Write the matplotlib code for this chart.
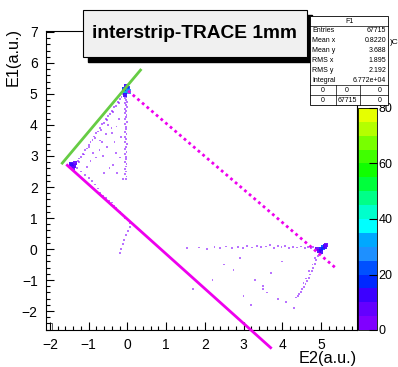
import numpy as np
import matplotlib.pyplot as plt
from matplotlib.colors import ListedColormap, Normalize
from matplotlib.patches import Rectangle
from matplotlib.ticker import MultipleLocator, AutoMinorLocator
import matplotlib.cm as cm

plt.rcParams['font.family'] = ['Liberation Sans', 'DejaVu Sans']

W, H = 398, 367

# hot spots: E2, E1, counts
hot_x = [-0.03, 0.00, -0.06, 0.02, -0.08, -0.02, 0.03, -0.05,
         -1.42, -1.38, -1.46, -1.40, -1.35,
         5.05, 5.00, 5.10, 4.95, 5.12, 4.90, 5.00]
hot_y = [5.10, 5.15, 5.05, 5.20, 5.15, 5.25, 5.08, 4.98,
         2.72, 2.68, 2.75, 2.62, 2.78,
         0.05, 0.00, 0.08, -0.05, 0.12, 0.00, -0.10]
hot_n = [55, 42, 30, 20, 15, 10, 25, 12,
         22, 14, 10, 8, 6,
         22, 18, 14, 12, 8, 8, 10]

# vertical streak at E2 ~ 0
streak_x = [-0.05, -0.02, -0.07, -0.03, 0.00, -0.06, -0.04, -0.01, -0.05, -0.03,
            -0.07, -0.02, -0.04, -0.06, -0.01, -0.05, -0.03, -0.04, -0.07, -0.02,
            -0.05, -0.03, -0.06, -0.01, -0.04, -0.05, -0.02, -0.06, -0.03, -0.04,
            -0.05, -0.02, -0.04, -0.06, -0.03, -0.05, -0.02, -0.04]
streak_y = [4.95, 4.90, 4.86, 4.80, 4.75, 4.70, 4.64, 4.58, 4.52, 4.46,
            4.40, 4.33, 4.26, 4.18, 4.10, 4.02, 3.94, 3.86, 3.78, 3.70,
            3.62, 3.54, 3.46, 3.38, 3.30, 3.22, 3.14, 3.06, 2.98, 2.90,
            2.82, 2.74, 2.66, 2.58, 2.50, 2.42, 2.34, 2.26]
streak_n = [6, 5, 4, 4, 3, 3, 3, 3, 2, 2, 2, 2, 2, 2, 1, 1, 2, 1, 1, 2,
            1, 1, 2, 1, 2, 1, 2, 2, 2, 1, 2, 1, 1, 2, 1, 1, 1, 1]

# diagonal edge from left blob up to the top hot spot
edge_x = [-1.33, -1.28, -1.24, -1.19, -1.15, -1.10, -1.05, -1.00, -0.95, -0.90,
          -0.85, -0.80, -0.75, -0.70, -0.65, -0.60, -0.55, -0.50, -0.45, -0.40,
          -0.35, -0.30, -0.25, -0.20, -0.15, -0.11,
          -1.25, -1.12, -0.98, -0.83, -0.68, -0.52, -0.38, -0.22]
edge_y = [2.74, 2.83, 2.92, 2.98, 3.07, 3.18, 3.24, 3.35, 3.46, 3.51,
          3.63, 3.74, 3.79, 3.90, 4.02, 4.07, 4.18, 4.29, 4.35, 4.46,
          4.57, 4.62, 4.74, 4.85, 4.90, 5.00,
          2.80, 3.05, 3.30, 3.58, 3.85, 4.15, 4.42, 4.72]

# sparse points inside the fan
fan_x = [-0.70, -0.52, -0.41, -0.30, -0.62, -0.22, -0.88, -0.36, -0.16, -0.50,
         -0.80, -0.26, -0.46, -0.60, -0.12, -0.95, -0.72, -0.33, -0.55, -0.18,
         -1.05, -0.40, -0.66, -0.28]
fan_y = [3.50, 3.30, 3.90, 3.10, 3.00, 4.20, 3.10, 2.70, 3.60, 4.00,
         2.95, 2.45, 2.60, 2.45, 2.25, 2.85, 3.20, 3.45, 3.70, 2.95,
         2.65, 3.75, 3.45, 3.95]

# spray from the left blob down towards the origin
spray_x = [-1.30, -1.20, -1.10, -1.00, -0.92, -0.84, -0.76, -0.70, -0.62, -0.55,
           -0.48, -0.40, -0.34, -0.28, -0.20, -0.12, -0.06, 0.02, 0.08, 0.06,
           0.02, -0.03, -0.08, -0.12, -0.17, -0.20]
spray_y = [2.60, 2.50, 2.40, 2.30, 2.18, 2.08, 1.95, 1.80, 1.72, 1.65,
           1.55, 1.50, 1.40, 1.32, 1.20, 1.10, 1.00, 0.92, 0.85, 0.70,
           0.58, 0.45, 0.30, 0.15, 0.00, -0.13]

# horizontal band at E1 ~ 0
band_x = [1.55, 1.85, 2.05, 2.25, 2.40, 2.55, 2.70, 2.85, 2.98, 3.10,
          3.22, 3.35, 3.46, 3.57, 3.68, 3.78, 3.88, 3.98, 4.08, 4.18,
          4.28, 4.38, 4.48, 4.58, 4.66, 4.74, 4.80, 4.86]
band_y = [0.02, 0.05, 0.00, 0.06, 0.03, 0.08, 0.04, 0.07, 0.02, 0.09,
          0.05, 0.10, 0.06, 0.08, 0.12, 0.04, 0.09, 0.06, 0.10, 0.03,
          0.07, 0.05, 0.08, 0.02, 0.06, 0.04, 0.07, 0.03]

# tail below the right hot spot
tail_x = [4.92, 4.88, 4.84, 4.80, 4.76, 4.72, 4.68, 4.64, 4.60, 4.56,
          4.52, 4.48, 4.44, 4.40, 4.36, 4.85, 4.78, 4.70, 4.62, 4.55]
tail_y = [-0.22, -0.35, -0.48, -0.60, -0.72, -0.82, -0.92, -1.02, -1.12, -1.22,
          -1.30, -1.38, -1.45, -1.50, -1.56, -0.28, -0.50, -0.70, -0.95, -1.10]

# isolated entries
field_x = [3.70, 3.50, 3.60, 2.74, 1.70, 3.50, 3.30, 3.90, 4.10, 3.00,
           2.90, 2.50, 4.00, 2.20, 3.20, 4.30]
field_y = [-0.77, -1.20, -1.40, -0.68, -1.30, -1.30, -1.00, -1.60, -1.70, -1.50,
           -0.30, -0.50, -0.40, -1.00, -1.80, -1.90]

# cut lines
green_x = [-1.68, 0.34]
green_y = [2.77, 5.77]
cut_x = [-1.55, 3.70]
cut_y = [2.70, -3.18]
dot_x = [0.02, 5.37]
dot_y = [5.10, -0.60]

palette = ['#8000ff', '#6400ff', '#3c00ff', '#0028ff', '#0050ff', '#1e90ff',
           '#00a8ff', '#00ffff', '#00ffcc', '#00ff88', '#00ff3c', '#10ff00',
           '#40ff00', '#78ff00', '#b4ff00', '#e6ff00']
z_ticks = [0, 20, 40, 60, 80]

stats_rows = [('Entries', '67715'), ('Mean x', '0.8220'), ('Mean y', '3.688'),
              ('RMS x', '1.895'), ('RMS y', '2.192'), ('Integral', '6.772e+04')]
stats_grid = [['0', '0', '0'], ['0', '67715', '0']]


def fx(px):
    return px / W


def fy(py):
    return 1 - py / H


fig = plt.figure(figsize=(W / 100, H / 100), dpi=100)
ax = fig.add_axes([fx(46), fy(330), fx(357) - fx(46), fy(31) - fy(330)])

cmap = ListedColormap(palette)
norm = Normalize(0, 80)

low_x = streak_x + edge_x + fan_x + spray_x + band_x + tail_x + field_x
low_y = streak_y + edge_y + fan_y + spray_y + band_y + tail_y + field_y
low_n = (streak_n + [2] * len(edge_x) + [1] * len(fan_x) + [1] * len(spray_x)
         + [1] * len(band_x) + [1] * len(tail_x) + [1] * len(field_x))

ax.scatter(low_x, low_y, c=low_n, cmap=cmap, norm=norm, s=1.8, marker='s',
           linewidths=0, alpha=0.55, zorder=3)
ax.scatter(hot_x, hot_y, c=hot_n, cmap=cmap, norm=norm, s=9, marker='s',
           linewidths=0, alpha=0.9, zorder=4)

ax.plot(green_x, green_y, color='#66cc44', lw=2, clip_on=False, zorder=5)
ax.plot(cut_x, cut_y, color='#ee00ee', lw=2, clip_on=False, zorder=5)
ax.plot(dot_x, dot_y, color='#ee00ee', lw=2, ls=(0, (1, 1.2)), clip_on=False, zorder=5)

ax.set_xlim(-2.1, 5.93)
ax.set_ylim(-2.61, 7.03)
ax.xaxis.set_major_locator(MultipleLocator(1))
ax.yaxis.set_major_locator(MultipleLocator(1))
ax.xaxis.set_minor_locator(AutoMinorLocator(5))
ax.yaxis.set_minor_locator(AutoMinorLocator(5))
ax.tick_params(which='both', direction='in', top=False, right=False, width=0.8)
ax.tick_params(which='major', length=6, labelsize=10, pad=6)
ax.tick_params(which='minor', length=3)
for s in ax.spines.values():
    s.set_linewidth(0.8)

# little open box in the corner as drawn by the histogram
ax.add_patch(Rectangle((0, 0), 0.018, 0.025, transform=ax.transAxes, fill=False,
                       lw=0.7, ec='#555555'))

fig.text(fx(357), fy(359), 'E2(a.u.)', ha='right', va='center', fontsize=11.7)
fig.text(fx(13), fy(28), 'E1(a.u.)', ha='center', va='top', rotation=90, fontsize=11.7)

# palette
cax = fig.add_axes([fx(358), fy(330), fx(377) - fx(358), fy(108) - fy(330)])
cb = fig.colorbar(cm.ScalarMappable(norm=norm, cmap=cmap), cax=cax, ticks=z_ticks)
cb.outline.set_linewidth(0.6)
cax.tick_params(direction='in', length=6, labelsize=9, pad=1, width=0.8)

# title pave with shadow
fig.add_artist(Rectangle((fx(88), fy(62)), fx(312) - fx(88), fy(15) - fy(62),
                         transform=fig.transFigure, color='black', zorder=10))
fig.add_artist(Rectangle((fx(83), fy(57)), fx(307) - fx(83), fy(10) - fy(57),
                         transform=fig.transFigure, fc='#f0f0f0', ec='black',
                         lw=0.8, zorder=11))
fig.text(fx(195), fy(33), 'interstrip-TRACE 1mm', ha='center', va='center',
         fontsize=13.8, fontweight='bold', zorder=12)

# stats box
bx0, bx1, by0, by1 = 310, 388, 16, 105
fig.add_artist(Rectangle((fx(bx0), fy(by1)), fx(bx1) - fx(bx0), fy(by0) - fy(by1),
                         transform=fig.transFigure, fc='white', ec='black',
                         lw=0.6, zorder=10))
row_h = (by1 - by0) / 9.0
fig.text(fx((bx0 + bx1) / 2), fy(by0 + row_h * 0.55), 'F1', ha='center', va='center',
         fontsize=5, zorder=12)
fig.add_artist(plt.Line2D([fx(bx0), fx(bx1)], [fy(by0 + row_h)] * 2,
                          transform=fig.transFigure, color='black', lw=0.5, zorder=12))
for i, (lab, val) in enumerate(stats_rows):
    yy = fy(by0 + row_h * (i + 1.5))
    fig.text(fx(bx0 + 2), yy, lab, ha='left', va='center', fontsize=5, zorder=12)
    fig.text(fx(bx1 - 2), yy, val, ha='right', va='center', fontsize=5, zorder=12)
col_x = [bx0 + 13, bx0 + 37, bx1 - 8]
for j, row in enumerate(stats_grid):
    yy = by0 + row_h * (7.5 + j)
    for cx, v in zip(col_x, row):
        fig.text(fx(cx), fy(yy), v, ha='center', va='center', fontsize=5, zorder=12)
    fig.add_artist(plt.Line2D([fx(bx0), fx(bx1)], [fy(by0 + row_h * (7 + j))] * 2,
                              transform=fig.transFigure, color='black', lw=0.5, zorder=12))
for vx in [bx0 + 26, bx0 + 50]:
    fig.add_artist(plt.Line2D([fx(vx)] * 2, [fy(by0 + row_h * 7), fy(by1)],
                              transform=fig.transFigure, color='black', lw=0.5, zorder=12))
fig.text(fx(390), fy(43), ')C', ha='left', va='center', fontsize=6, zorder=12)

fig.savefig('out.png', dpi=100, facecolor='white')
